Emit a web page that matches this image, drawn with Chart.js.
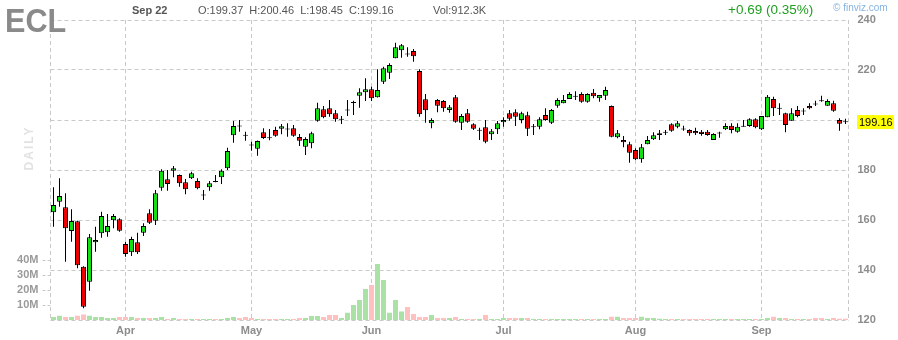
<!DOCTYPE html>
<html>
<head>
<meta charset="utf-8">
<script src="https://cdn.jsdelivr.net/npm/chart.js@4"></script>
<style>
  html, body { margin: 0; padding: 0; background: #fff; }
</style>
</head>
<body>
<canvas id="chart" width="898" height="340"></canvas>
<script>
// Daily candles, ECL, Mar 16 - Sep 22 (trading days only)
const dates = [
  'Mar 16','Mar 17','Mar 18','Mar 19','Mar 20','Mar 23','Mar 24','Mar 25','Mar 26','Mar 27','Mar 30','Mar 31',
  'Apr 1','Apr 2','Apr 3','Apr 6','Apr 7','Apr 8','Apr 9','Apr 13','Apr 14','Apr 15','Apr 16','Apr 17','Apr 20','Apr 21','Apr 22','Apr 23','Apr 24','Apr 27','Apr 28','Apr 29','Apr 30',
  'May 1','May 4','May 5','May 6','May 7','May 8','May 11','May 12','May 13','May 14','May 15','May 18','May 19','May 20','May 21','May 22','May 26','May 27','May 28','May 29',
  'Jun 1','Jun 2','Jun 3','Jun 4','Jun 5','Jun 8','Jun 9','Jun 10','Jun 11','Jun 12','Jun 15','Jun 16','Jun 17','Jun 18','Jun 19','Jun 22','Jun 23','Jun 24','Jun 25','Jun 26','Jun 29','Jun 30',
  'Jul 1','Jul 2','Jul 6','Jul 7','Jul 8','Jul 9','Jul 10','Jul 13','Jul 14','Jul 15','Jul 16','Jul 17','Jul 20','Jul 21','Jul 22','Jul 23','Jul 24','Jul 27','Jul 28','Jul 29','Jul 30','Jul 31',
  'Aug 3','Aug 4','Aug 5','Aug 6','Aug 7','Aug 10','Aug 11','Aug 12','Aug 13','Aug 14','Aug 17','Aug 18','Aug 19','Aug 20','Aug 21','Aug 24','Aug 25','Aug 26','Aug 27','Aug 28','Aug 31',
  'Sep 1','Sep 2','Sep 3','Sep 4','Sep 8','Sep 9','Sep 10','Sep 11','Sep 14','Sep 15','Sep 16','Sep 17','Sep 18','Sep 21','Sep 22'
];

const opens = [
  163.1,167.3,165.1,155.6,159.5,141.3,135.3,151.1,154.7,155.1,
  159.9,160.3,150.4,147.1,151.1,154.9,162.7,159.7,172.9,176.3,
  179.7,178.0,175.1,176.7,175.6,170.0,173.1,175.6,177.1,180.7,
  193.9,197.7,194.0,190.1,188.5,195.1,193.0,196.0,196.5,196.3,
  196.7,193.2,189.3,190.7,199.7,204.3,204.7,202.7,200.2,203.9,
  206.9,209.7,211.1,212.3,209.1,215.3,218.9,224.7,227.9,226.6,
  227.6,219.6,208.3,198.7,208.0,207.6,204.0,209.1,198.9,202.7,
  198.3,195.8,197.1,194.3,196.3,199.1,202.7,203.1,200.0,201.9,
  197.3,197.3,202.0,198.9,205.7,206.7,208.4,209.5,210.4,207.3,
  210.9,208.7,209.7,205.6,193.1,192.0,190.3,188.0,184.3,190.3,
  192.3,194.0,195.0,198.3,197.3,196.5,196.0,195.6,195.3,195.3,
  192.0,194.8,196.3,197.7,195.3,197.5,197.6,200.3,196.3,201.1,
  208.4,204.6,202.7,199.7,204.0,203.6,205.6,206.5,207.8,205.7,
  206.7,200.0,199.37
];
const highs = [
  173.1,176.7,170.7,164.3,159.7,141.5,154.4,157.3,163.3,162.4,
  162.4,160.7,151.3,153.3,154.9,158.7,164.3,172.0,180.3,180.0,
  181.6,178.2,176.4,179.3,176.7,172.0,175.6,178.0,180.3,188.9,
  199.6,200.0,195.3,191.3,191.8,196.7,196.4,197.3,198.4,198.7,
  198.0,194.4,193.1,195.3,206.9,205.6,208.0,204.0,201.6,208.0,
  207.7,212.7,216.7,213.3,220.3,221.3,222.7,230.9,230.4,229.1,
  228.4,220.3,210.4,200.7,208.4,208.0,206.0,210.0,202.4,204.4,
  198.7,196.9,200.0,196.4,199.6,201.1,204.0,204.3,203.3,203.3,
  198.4,201.1,204.7,204.4,208.7,210.0,211.1,211.5,211.1,210.7,
  212.4,210.0,213.3,205.8,196.0,193.6,191.3,188.7,190.4,193.6,
  195.1,196.0,196.0,198.7,199.6,197.7,196.3,196.9,196.0,196.0,
  194.7,195.3,198.7,198.7,198.7,200.0,200.7,200.7,201.6,210.0,
  209.3,206.7,202.9,204.7,205.6,204.7,206.7,207.7,209.7,208.3,
  207.7,200.7,200.46
];
const lows = [
  157.3,165.3,143.3,151.3,140.7,124.7,131.7,147.3,152.9,153.3,
  156.7,155.3,145.3,145.6,146.4,153.6,158.4,158.0,171.7,171.7,
  177.1,173.3,170.3,176.4,172.3,168.0,171.7,175.1,174.4,180.0,
  190.9,195.3,191.7,187.7,185.7,192.4,191.9,193.3,194.3,193.3,
  193.3,189.6,186.0,188.7,199.3,200.7,201.3,199.3,198.4,201.6,
  202.0,204.9,207.6,207.6,209.0,214.4,216.4,224.7,224.9,225.3,
  223.3,201.3,198.9,196.7,203.1,203.3,202.9,198.9,196.0,198.9,
  196.0,192.0,190.7,192.0,194.4,197.3,199.7,197.6,198.7,193.6,
  194.0,196.3,199.7,198.4,204.9,206.7,208.4,208.0,206.9,206.9,
  208.7,207.3,208.0,193.1,192.7,189.1,182.9,184.0,182.9,190.3,
  192.0,192.0,194.0,195.3,196.7,195.7,193.7,194.0,193.7,193.7,
  192.0,192.9,196.0,194.7,194.9,197.3,197.3,196.7,196.0,201.1,
  201.6,202.0,195.1,199.7,201.1,202.0,204.3,205.6,207.3,205.7,
  203.3,195.7,198.45
];
const closes = [
  166.0,169.6,156.7,159.6,141.9,125.3,153.1,152.0,161.6,157.6,
  161.6,155.7,146.4,152.4,147.1,157.6,158.9,170.7,179.7,174.4,
  180.7,174.7,172.3,178.7,172.7,170.1,174.7,175.3,179.7,187.6,
  197.6,197.5,193.8,189.9,191.6,192.8,192.8,193.7,197.5,196.5,
  193.7,191.7,192.4,194.7,204.7,201.1,202.3,200.3,200.4,204.1,
  207.2,211.1,212.3,208.7,212.0,220.7,222.0,229.1,229.9,226.3,
  225.5,202.3,203.9,200.0,205.7,204.7,205.1,199.3,201.6,199.3,
  196.5,196.0,191.3,195.5,198.7,200.0,200.5,201.3,202.7,196.5,
  197.4,200.3,200.0,204.0,208.0,208.0,210.4,209.6,207.3,210.4,
  209.5,210.0,212.0,193.3,194.7,191.1,186.9,184.3,189.1,192.0,
  193.9,194.7,195.2,195.7,198.7,196.3,194.7,194.7,194.4,194.0,
  194.4,194.9,197.6,196.0,197.3,197.6,200.3,197.1,201.6,209.3,
  204.7,204.8,198.0,202.7,201.6,203.7,204.7,206.3,207.6,207.6,
  203.7,198.47,199.16
];
// volume in millions of shares
const volumes = [
  2.0,2.9,2.0,2.0,2.9,3.6,2.9,2.0,2.0,1.3,
  1.3,2.0,2.0,2.0,1.3,1.3,1.3,1.3,2.0,0.7,
  1.3,0.7,0.7,0.7,0.7,0.7,0.7,0.7,0.7,1.3,
  2.0,1.3,2.0,1.3,0.7,0.7,0.7,0.7,0.7,0.7,
  0.7,1.3,1.3,2.7,2.7,2.0,3.3,3.3,1.3,4.9,
  10.0,13.3,20.7,23.3,37.3,26.7,4.9,13.3,5.6,8.7,
  4.0,2.0,2.0,3.3,1.3,1.3,1.3,2.0,0.7,0.7,
  0.7,0.7,3.3,0.7,0.7,1.3,1.3,1.3,1.3,1.3,
  0.7,0.7,0.7,0.7,0.7,0.7,0.7,0.7,0.7,0.7,
  0.7,0.7,0.7,2.2,2.2,1.3,1.3,1.3,2.2,1.3,
  1.3,0.9,0.7,0.7,0.7,0.7,0.7,0.7,0.7,0.7,
  0.7,0.7,0.7,0.7,0.7,0.7,0.7,0.7,0.7,1.3,
  2.2,1.3,1.3,0.7,0.7,0.7,0.7,1.3,1.3,0.7,
  1.3,0.9,0.91
];

const priceTicks = [120, 140, 160, 180, 200, 220, 240];
const volumeTicks = [10, 20, 30, 40];

const FONT = '"Liberation Sans", Arial, sans-serif';
const GRID = '#c9c9c9';
const AXIS_TEXT = '#8c8c8c';
const GREEN = '#12e012';
const RED = '#ee0000';
const VOL_GREEN = '#aae2a6';
const VOL_RED = '#ffc0c0';

Chart.defaults.font.family = FONT;

// first trading day of each month gets a gridline and a label
const monthOf = d => d.split(' ')[0];
const monthStarts = dates.map((d, i) => i > 0 && monthOf(d) !== monthOf(dates[i - 1]) ? i : -1).filter(i => i >= 0);

const isUp = closes.map((c, i) => c >= opens[i]);
const wickData = lows.map((l, i) => [l, highs[i]]);
const bodyData = opens.map((o, i) => {
  let lo = Math.min(o, closes[i]);
  let hi = Math.max(o, closes[i]);
  // doji: keep at least a 1px line so the cross shows
  if (hi - lo < 0.4) {
    const mid = (hi + lo) / 2;
    lo = mid - 0.2;
    hi = mid + 0.2;
  }
  return [lo, hi];
});

// header, frame and last-price tag
const finvizDecor = {
  id: 'finvizDecor',
  beforeDatasetsDraw(chart) {
    const { ctx, chartArea: a } = chart;
    ctx.save();
    ctx.strokeStyle = GRID;
    ctx.lineWidth = 1;
    ctx.setLineDash([4, 3]);
    ctx.beginPath();
    ctx.moveTo(a.left, a.top);
    ctx.lineTo(a.left, a.bottom);
    ctx.moveTo(a.right, a.top);
    ctx.lineTo(a.right, a.bottom);
    ctx.stroke();
    ctx.restore();
  },
  afterDraw(chart) {
    const { ctx } = chart;
    const last = closes.length - 1;
    ctx.save();

    // ticker
    ctx.save();
    ctx.translate(5, 32);
    ctx.scale(0.9, 1);
    ctx.font = 'bold 34px ' + FONT;
    ctx.fillStyle = '#8a8a8a';
    ctx.fillText('ECL', 0, 0);
    ctx.restore();

    ctx.textBaseline = 'alphabetic';
    ctx.fillStyle = '#555';
    ctx.font = 'bold 11px ' + FONT;
    ctx.fillText(dates[last], 132, 14);
    ctx.font = '11px ' + FONT;
    ctx.fillText('O:' + opens[last].toFixed(2) + '  H:' + highs[last].toFixed(2) +
      '  L:' + lows[last].toFixed(2) + '  C:' + closes[last].toFixed(2), 198, 14);
    ctx.fillText('Vol:912.3K', 433, 14);

    const chg = closes[last] - closes[last - 1];
    const pct = chg / closes[last - 1] * 100;
    ctx.font = '13.5px ' + FONT;
    ctx.fillStyle = chg >= 0 ? '#1f9f1f' : '#d00000';
    ctx.fillText((chg >= 0 ? '+' : '') + chg.toFixed(2) + ' (' + pct.toFixed(2) + '%)', 728, 14);

    ctx.font = '10px ' + FONT;
    ctx.fillStyle = '#86b4e0';
    ctx.fillText('\u00a9 finviz.com', 833, 11);

    // DAILY watermark
    ctx.save();
    ctx.translate(30, 148);
    ctx.rotate(-Math.PI / 2);
    ctx.font = 'bold 12px ' + FONT;
    ctx.letterSpacing = '2px';
    ctx.fillStyle = '#e2e2e2';
    ctx.textAlign = 'center';
    ctx.textBaseline = 'middle';
    ctx.fillText('DAILY', 0, 0);
    ctx.restore();

    // last price tag
    const py = chart.scales.y.getPixelForValue(closes[last]);
    ctx.fillStyle = '#ffff00';
    ctx.fillRect(857, py - 7, 37, 14);
    ctx.fillStyle = '#000';
    ctx.font = '11px ' + FONT;
    ctx.textBaseline = 'middle';
    ctx.fillText(closes[last].toFixed(2), 859, py + 0.5);
    ctx.restore();
  }
};

const ctx = document.getElementById('chart').getContext('2d');
new Chart(ctx, {
  type: 'bar',
  data: {
    labels: dates,
    datasets: [
      {
        label: 'Body',
        data: bodyData,
        yAxisID: 'y',
        backgroundColor: isUp.map(u => u ? GREEN : RED),
        borderColor: '#000',
        borderWidth: 1,
        borderSkipped: false,
        inflateAmount: 0,
        barThickness: 5,
        grouped: false,
        order: 1
      },
      {
        label: 'Wick',
        data: wickData,
        yAxisID: 'y',
        backgroundColor: '#000',
        borderWidth: 0,
        inflateAmount: 0,
        barThickness: 1,
        grouped: false,
        order: 2
      },
      {
        label: 'Volume',
        data: volumes,
        yAxisID: 'yVol',
        backgroundColor: isUp.map(u => u ? VOL_GREEN : VOL_RED),
        borderWidth: 0,
        inflateAmount: 0,
        barThickness: 5,
        grouped: false,
        order: 3
      }
    ]
  },
  options: {
    responsive: false,
    animation: false,
    devicePixelRatio: 1,
    layout: { padding: { top: 20, left: 0, right: 0, bottom: 0 } },
    plugins: {
      legend: { display: false },
      tooltip: { enabled: false }
    },
    scales: {
      x: {
        offset: true,
        grid: {
          offset: false,
          drawTicks: false,
          color: c => monthStarts.includes(c.index) ? GRID : 'transparent'
        },
        border: { display: false, dash: [4, 3] },
        ticks: {
          autoSkip: false,
          maxRotation: 0,
          padding: 4,
          color: AXIS_TEXT,
          font: { size: 11, weight: 'bold' },
          callback: (v, i) => monthStarts.includes(i) ? monthOf(dates[i]) : ''
        },
        afterFit: s => { s.height = 20; }
      },
      y: {
        position: 'right',
        min: 120,
        max: 240,
        afterBuildTicks: s => { s.ticks = priceTicks.map(v => ({ value: v })); },
        grid: { color: GRID, drawTicks: false },
        border: { display: false, dash: [4, 3] },
        ticks: {
          padding: 9,
          color: AXIS_TEXT,
          font: { size: 11, weight: 'bold' }
        },
        afterFit: s => { s.width = 49.5; }
      },
      yVol: {
        position: 'left',
        min: 0,
        max: 200,
        afterBuildTicks: s => { s.ticks = volumeTicks.map(v => ({ value: v })); },
        grid: {
          drawOnChartArea: false,
          drawTicks: true,
          tickLength: 8,
          tickColor: GRID,
          tickBorderDash: [3, 2]
        },
        border: { display: false },
        ticks: {
          padding: 4,
          color: '#9a9a9a',
          font: { size: 11, weight: 'bold' },
          callback: v => v + 'M'
        },
        afterFit: s => { s.width = 50.5; }
      }
    }
  },
  plugins: [finvizDecor]
});
</script>
</body>
</html>
